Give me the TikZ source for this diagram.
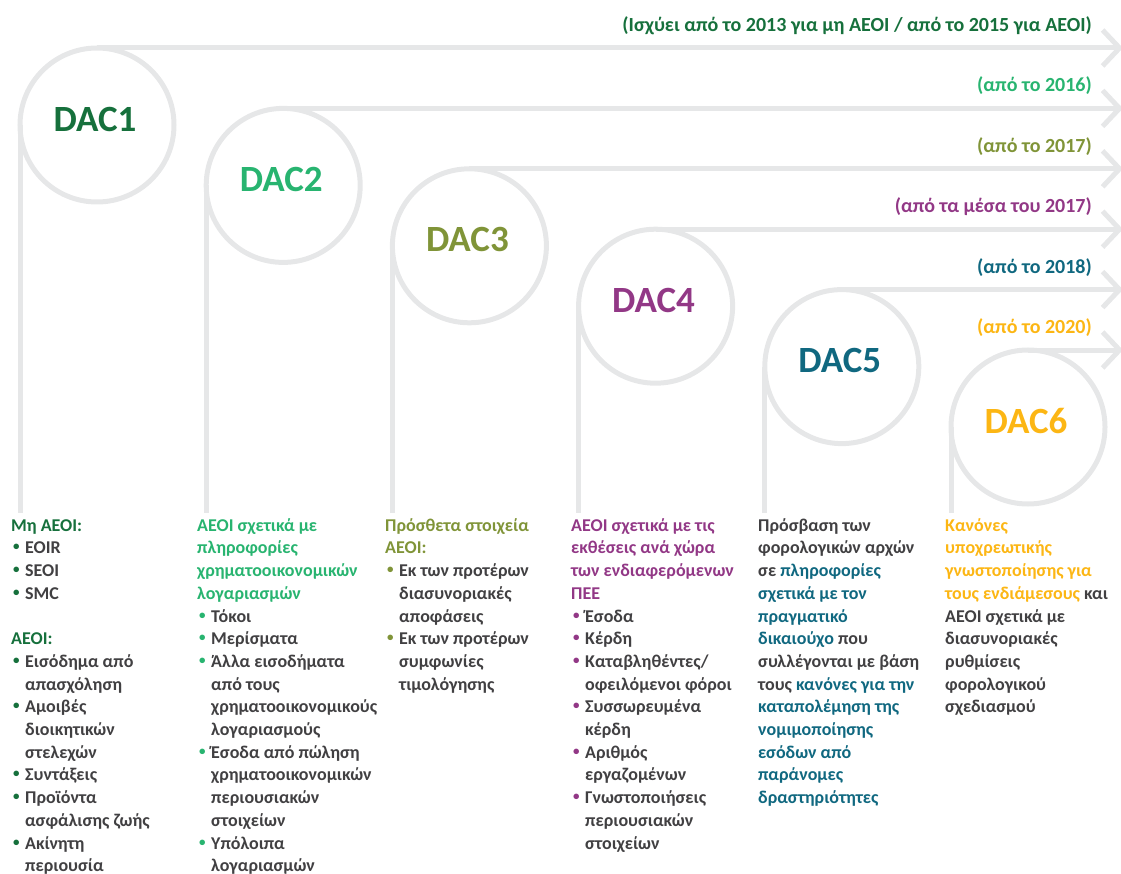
\documentclass[tikz,border=0pt]{standalone}
\usepackage{fontspec}
\setmainfont{Carlito}
\usetikzlibrary{arrows.meta}
\definecolor{dacone}{RGB}{22,112,60}
\definecolor{dactwo}{RGB}{40,180,112}
\definecolor{dacthree}{RGB}{128,148,56}
\definecolor{dacfour}{RGB}{146,56,134}
\definecolor{dacfive}{RGB}{16,104,128}
\definecolor{dacsix}{RGB}{252,182,20}
\definecolor{linegray}{RGB}{230,231,232}
\definecolor{textgray}{RGB}{65,64,66}
% bullet and hanging indent
\newcommand{\bul}[1]{\makebox[14pt][l]{\hspace{2pt}\textcolor{#1}{\raisebox{3pt}{\fontsize{13}{13}\selectfont •}}}}
\newcommand{\cont}{\hspace*{14pt}}
\begin{document}
\begin{tikzpicture}[x=1pt, y=-1pt,
    ring/.style={draw=linegray, line width=5pt, circle, minimum size=154pt, inner sep=0pt, outer sep=0pt},
    daclabel/.style={font=\fontsize{37}{40}\selectfont\bfseries},
    track/.style={draw=linegray, line width=5pt},
    yearlabel/.style={anchor=base east, inner sep=0pt, font=\fontsize{20}{24}\selectfont\bfseries},
    column/.style={anchor=north west, align=left, inner sep=0pt, text=textgray, font=\fontsize{18}{22.7}\selectfont\bfseries}]
    \useasboundingbox (0,0) rectangle (1121,874);
    % Draw circles, tracks and arrows
    \foreach \i/\col in {1/dacone,2/dactwo,3/dacthree,4/dacfour,5/dacfive,6/dacsix}{
        \pgfmathsetmacro{\cx}{97+186.2*(\i-1)}
        \pgfmathsetmacro{\cy}{125+60.4*(\i-1)}
        \node[ring] (dac\i) at (\cx,\cy) {};
        \node[daclabel, text=\col] (lab\i) at (\cx-2,\cy-6) {DAC\i};
        \coordinate (b\i) at (\cx-77,513);
        \coordinate (e\i) at (1123,\cy-77);
        \draw[track] (b\i) -- (dac\i.west);
        \draw[track, -{Straight Barb[length=17pt,width=36pt]}] (dac\i.north) -- (e\i);
    }
    % Dates above the tracks
    \node[yearlabel, text=dacone] (yr1) at (1092,31.5) {(Ισχύει από το 2013 για μη AEOI / από το 2015 για AEOI)};
    \node[yearlabel, text=dactwo] (yr2) at (1092,91.9) {(από το 2016)};
    \node[yearlabel, text=dacthree] (yr3) at (1092,152.3) {(από το 2017)};
    \node[yearlabel, text=dacfour] (yr4) at (1092,212.7) {(από τα μέσα του 2017)};
    \node[yearlabel, text=dacfive] (yr5) at (1092,273.1) {(από το 2018)};
    \node[yearlabel, text=dacsix] (yr6) at (1092,333.5) {(από το 2020)};
    % Columns of text
    \node[column] (txt1) at (11,515) {\rule{0pt}{16pt}\textcolor{dacone}{Μη AEOI:}\\
        \bul{dacone}EOIR\\
        \bul{dacone}SEOI\\
        \bul{dacone}SMC\\
        ~\\
        \textcolor{dacone}{AEOI:}\\
        \bul{dacone}Εισόδημα από\\
        \cont απασχόληση\\
        \bul{dacone}Αμοιβές\\
        \cont διοικητικών\\
        \cont στελεχών\\
        \bul{dacone}Συντάξεις\\
        \bul{dacone}Προϊόντα\\
        \cont ασφάλισης ζωής\\
        \bul{dacone}Ακίνητη\\
        \cont περιουσία};
    \node[column] (txt2) at (197,515) {\rule{0pt}{16pt}\textcolor{dactwo}{AEOI σχετικά με}\\
        \textcolor{dactwo}{πληροφορίες}\\
        \textcolor{dactwo}{χρηματοοικονομικών}\\
        \textcolor{dactwo}{λογαριασμών}\\
        \bul{dactwo}Τόκοι\\
        \bul{dactwo}Μερίσματα\\
        \bul{dactwo}Άλλα εισοδήματα\\
        \cont από τους\\
        \cont χρηματοοικονομικούς\\
        \cont λογαριασμούς\\
        \bul{dactwo}Έσοδα από πώληση\\
        \cont χρηματοοικονομικών\\
        \cont περιουσιακών\\
        \cont στοιχείων\\
        \bul{dactwo}Υπόλοιπα\\
        \cont λογαριασμών};
    \node[column] (txt3) at (385,515) {\rule{0pt}{16pt}\textcolor{dacthree}{Πρόσθετα στοιχεία}\\
        \textcolor{dacthree}{AEOI:}\\
        \bul{dacthree}Εκ των προτέρων\\
        \cont διασυνοριακές\\
        \cont αποφάσεις\\
        \bul{dacthree}Εκ των προτέρων\\
        \cont συμφωνίες\\
        \cont τιμολόγησης};
    \node[column] (txt4) at (571,515) {\rule{0pt}{16pt}\textcolor{dacfour}{AEOI σχετικά με τις}\\
        \textcolor{dacfour}{εκθέσεις ανά χώρα}\\
        \textcolor{dacfour}{των ενδιαφερόμενων}\\
        \textcolor{dacfour}{ΠΕΕ}\\
        \bul{dacfour}Έσοδα\\
        \bul{dacfour}Κέρδη\\
        \bul{dacfour}Καταβληθέντες/\\
        \cont οφειλόμενοι φόροι\\
        \bul{dacfour}Συσσωρευμένα\\
        \cont κέρδη\\
        \bul{dacfour}Αριθμός\\
        \cont εργαζομένων\\
        \bul{dacfour}Γνωστοποιήσεις\\
        \cont περιουσιακών\\
        \cont στοιχείων};
    \node[column] (txt5) at (758,515) {\rule{0pt}{16pt}Πρόσβαση των\\
        φορολογικών αρχών\\
        σε \textcolor{dacfive}{πληροφορίες}\\
        \textcolor{dacfive}{σχετικά με τον}\\
        \textcolor{dacfive}{πραγματικό}\\
        \textcolor{dacfive}{δικαιούχο} που\\
        συλλέγονται με βάση\\
        τους \textcolor{dacfive}{κανόνες για την}\\
        \textcolor{dacfive}{καταπολέμηση της}\\
        \textcolor{dacfive}{νομιμοποίησης}\\
        \textcolor{dacfive}{εσόδων από}\\
        \textcolor{dacfive}{παράνομες}\\
        \textcolor{dacfive}{δραστηριότητες}};
    \node[column] (txt6) at (945,515) {\rule{0pt}{16pt}\textcolor{dacsix}{Κανόνες}\\
        \textcolor{dacsix}{υποχρεωτικής}\\
        \textcolor{dacsix}{γνωστοποίησης για}\\
        \textcolor{dacsix}{τους ενδιάμεσους} και\\
        AEOI σχετικά με\\
        διασυνοριακές\\
        ρυθμίσεις\\
        φορολογικού\\
        σχεδιασμού};
\end{tikzpicture}
\end{document}
